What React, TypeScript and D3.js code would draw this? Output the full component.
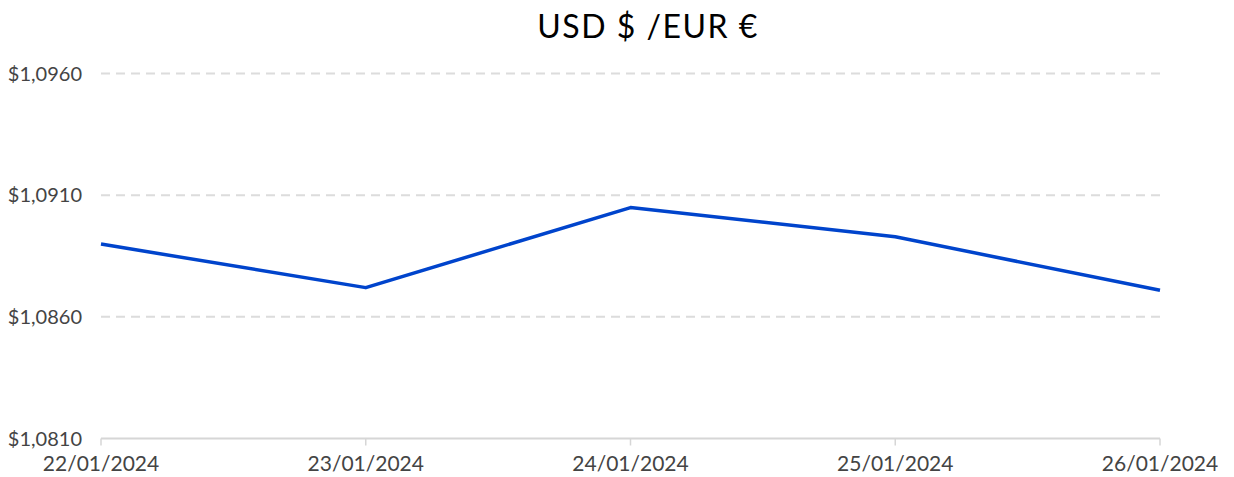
import React from "react";
import * as d3 from "d3";

const dates = ["22/01/2024", "23/01/2024", "24/01/2024", "25/01/2024", "26/01/2024"];
const rates = [1.08899, 1.0872, 1.09049, 1.08929, 1.08709];
const yTicks = [1.081, 1.086, 1.091, 1.096];
const title = "USD $ /EUR €";

const W = 1234, H = 477;
const margin = { left: 101, right: 74, top: 73.5, bottom: 38.5 };

export default function App() {
  const x = d3.scalePoint<string>().domain(dates).range([margin.left, W - margin.right]);
  const y = d3.scaleLinear().domain([1.081, 1.096]).range([H - margin.bottom, margin.top]);
  const line = d3.line<number>().x((_, i) => x(dates[i])!).y((d) => y(d));
  const fmt = (v: number) => "$" + v.toFixed(4).replace(".", ",");
  const font = "Lato, 'Noto Sans', sans-serif";
  return (
    <svg width={W} height={H} style={{ position: "absolute", left: 0, top: 0, background: "#fff" }}>
      <text x={648} y={38} textAnchor="middle" fontFamily={font} fontSize={32} fontWeight={400} letterSpacing={1.5} fill="#000">{title}</text>
      {yTicks.slice(1).map((t) => (
        <line key={t} x1={margin.left} x2={W - margin.right} y1={y(t)} y2={y(t)} stroke="#dcdcdc" strokeWidth={2} strokeDasharray="9,6" />
      ))}
      <line x1={margin.left} x2={W - margin.right} y1={y(1.081)} y2={y(1.081)} stroke="#d6d6d6" strokeWidth={2} />
      {dates.map((d) => (
        <g key={d}>
          <line x1={x(d)} x2={x(d)} y1={y(1.081)} y2={y(1.081) + 7} stroke="#d6d6d6" strokeWidth={1.5} />
          <text x={x(d)} y={471} textAnchor="middle" fontFamily={font} fontSize={21} fill="#444">{d}</text>
        </g>
      ))}
      {yTicks.map((t) => (
        <text key={t} x={82} y={y(t) + 7} textAnchor="end" fontFamily={font} fontSize={20} fill="#444">{fmt(t)}</text>
      ))}
      <path d={line(rates)!} fill="none" stroke="#0044cc" strokeWidth={3.5} strokeLinejoin="round" />
    </svg>
  );
}
